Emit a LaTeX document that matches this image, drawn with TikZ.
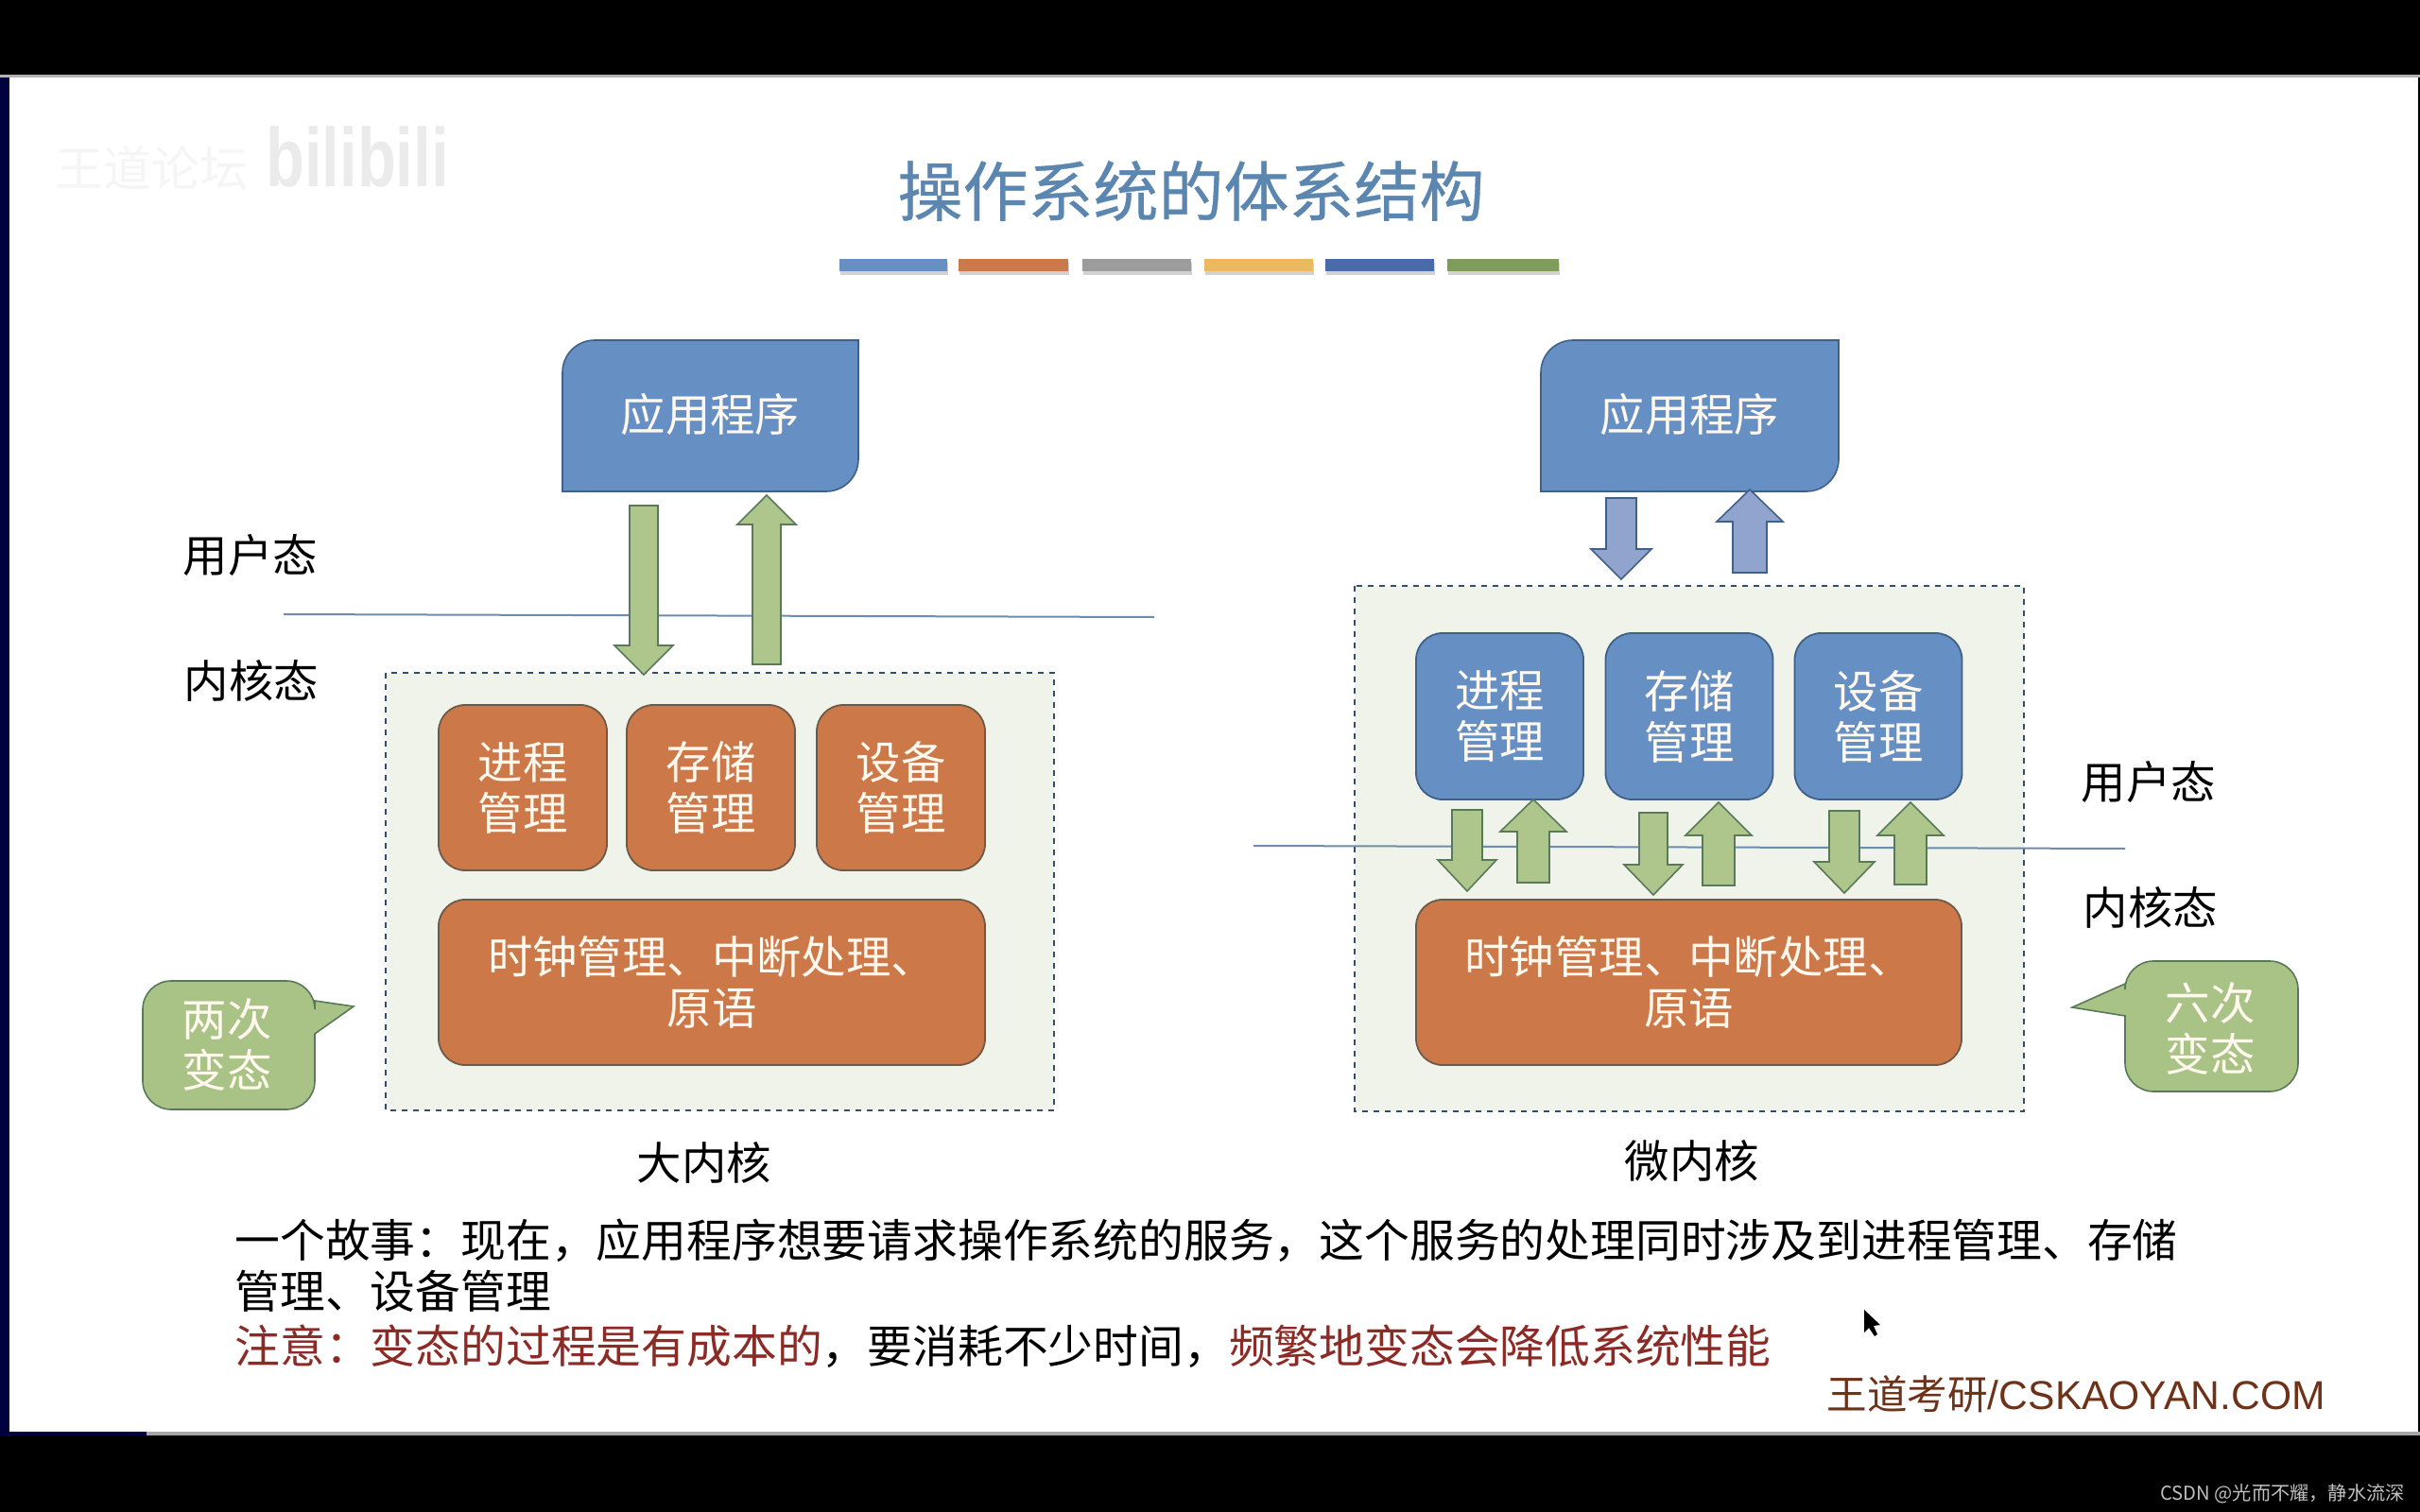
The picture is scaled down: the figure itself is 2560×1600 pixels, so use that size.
\documentclass[tikz,border=0pt]{standalone}
\usepackage{fontspec}
\setmainfont{Noto Sans CJK SC}
\newfontfamily\latinfont{Liberation Sans}
\newfontfamily\titlefont[FakeBold=0.5]{Noto Sans CJK SC}
\usetikzlibrary{calc,shadows}
\definecolor{titleblue}{HTML}{5B86B0}
\definecolor{boxblue}{HTML}{6690C4}
\definecolor{boxorange}{HTML}{CC7848}
\definecolor{edgeblue}{HTML}{3F6088}
\definecolor{edgeorange}{HTML}{6E5A48}
\definecolor{kernelfill}{HTML}{EFF3EA}
\definecolor{arrowgreen}{HTML}{AEC68C}
\definecolor{edgegreen}{HTML}{587A58}
\definecolor{arrowblue}{HTML}{90A4CE}
\definecolor{callgreen}{HTML}{A9C285}
\definecolor{lineblue}{HTML}{6C8DAE}
\definecolor{notered}{HTML}{8C2A26}
\definecolor{markbrown}{HTML}{6E3218}
\definecolor{cream}{HTML}{FFF8EE}
\newcommand{\bodysize}{\fontsize{23.7}{27}\selectfont}
\newcommand{\storysize}{\fontsize{23.9}{27}\selectfont}
\tikzset{
  modbox/.style={draw,line width=0.9pt,rounded corners=14pt,inner sep=0pt,text=cream,align=center,font=\bodysize},
  orangebox/.style={modbox,fill=boxorange,draw=edgeorange},
  bluebox/.style={modbox,fill=boxblue,draw=edgeblue},
  kernelbox/.style={draw=edgeblue!80!black,fill=kernelfill,dashed,line width=0.7pt},
  approof/.style={fill=boxblue,draw=edgeblue,line width=0.8pt},
  modelabel/.style={text=black,font=\bodysize,align=center,inner sep=0pt},
  calltext/.style={text=cream,font=\bodysize,align=center,inner sep=0pt},
  callshape/.style={fill=callgreen,draw=edgegreen,line width=0.8pt},
  colorbar/.style={draw=none,drop shadow={shadow xshift=0.5pt,shadow yshift=-2pt,opacity=0.35}},
  fatarrow/.style n args={3}{line width=0.8pt,to path={
    let \p1=(\tikztostart),\p2=(\tikztotarget),\n1={ifthenelse(\y2>\y1,1,-1)*#3pt} in
    (\x1-#1pt,\y1) -- (\x2-#1pt,\y2-\n1) -- (\x2-#2pt,\y2-\n1) -- (\x2,\y2)
    -- (\x2+#2pt,\y2-\n1) -- (\x2+#1pt,\y2-\n1) -- (\x1+#1pt,\y1) -- cycle}},
  greenarrow/.style={fill=arrowgreen,draw=edgegreen},
  bluearrow/.style={fill=arrowblue,draw=edgeblue},
}
\begin{document}
\begin{tikzpicture}[x=0.5pt,y=-0.5pt]
\useasboundingbox (0,0) rectangle (2560,1600);
% screen and slide
\fill[black] (0,0) rectangle (2560,1600);
\fill[white] (10,82) rectangle (2558,1515);
\fill[gray!60] (0,79) rectangle (2560,82);
\fill[gray!70] (0,1515) rectangle (2560,1519);
\fill[black!75!blue] (0,82) rectangle (10,1515);
\fill[black!75!blue] (0,1515) rectangle (155,1519);
\node[text=black!4,font=\fontsize{25.5}{26}\selectfont,inner sep=0pt] (forum) at (160,178) {王道论坛};
\node[text=black!8,font=\fontsize{44}{44}\selectfont\latinfont\bfseries,inner sep=0pt,xscale=0.76] (site) at (378,166) {bilibili};
% title and the strip under it
\node[text=titleblue,font=\fontsize{34.5}{36}\selectfont\titlefont,inner sep=0pt] (title) at (1260,202) {操作系统的体系结构};
\foreach \xa/\xb/\c in {888/1002/6690C4,1014/1130/CC7848,1145/1260/9C9C9C,1274/1389/EDB95E,1402/1517/4A6BA9,1531/1649/7D9D58}{
  \definecolor{barcol}{HTML}{\c}
  \fill[barcol,colorbar] (\xa,274) rectangle (\xb,287);
}
% kernel frames
\draw[kernelbox] (408,712) rectangle (1115,1175);
\draw[kernelbox] (1433,620) rectangle (2141,1176);
% mode boundaries
\coordinate (leftw) at (300,650);
\coordinate (lefte) at (1221,653);
\coordinate (rightw) at (1326,895);
\coordinate (righte) at (2248,898);
\draw[lineblue,line width=1pt] (leftw) -- (lefte);
\draw[lineblue,line width=1pt] (rightw) -- (righte);
\node[modelabel] (userl) at (265,588) {用户态};
\node[modelabel] (kernl) at (266,720) {内核态};
\node[modelabel] (userr) at (2273,828) {用户态};
\node[modelabel] (kernr) at (2275,960) {内核态};
% application boxes, two corners rounded
\foreach \nm/\xa/\xb in {appl/595/908,appr/1630/1945}{
  \draw[approof] (\xa,520) [sharp corners] -- (\xa,395) [rounded corners=17pt] -- (\xa,360) [sharp corners] -- (\xb,360)
    -- (\xb,480) [rounded corners=17pt] -- (\xb,520) [sharp corners] -- cycle;
  \node[text=cream,font=\bodysize,inner sep=0pt] (\nm) at ({(\xa+\xb)/2},438) {应用程序};
}
% modules
\node[orangebox,minimum width=89pt,minimum height=87.5pt] (procl) at (553,833.5) {进程\\管理};
\node[orangebox,minimum width=89pt,minimum height=87.5pt] (meml) at (752,833.5) {存储\\管理};
\node[orangebox,minimum width=89pt,minimum height=87.5pt] (devl) at (953,833.5) {设备\\管理};
\node[orangebox,minimum width=289pt,minimum height=87.5pt] (corel) at (753,1039.5) {时钟管理、中断处理、\\原语};
\node[bluebox,minimum width=88.5pt,minimum height=88pt] (procr) at (1586.5,758) {进程\\管理};
\node[bluebox,minimum width=88.5pt,minimum height=88pt] (memr) at (1787,758) {存储\\管理};
\node[bluebox,minimum width=88.5pt,minimum height=88pt] (devr) at (1987,758) {设备\\管理};
\node[orangebox,minimum width=288.5pt,minimum height=87.5pt] (corer) at (1786.5,1039.5) {时钟管理、中断处理、\\原语};
% block arrows
\foreach \nm/\x/\ya/\yb in {ad/681/535/714,au/811/703/524}{
  \coordinate (\nm s) at (\x,\ya);
  \coordinate (\nm e) at (\x,\yb);
  \draw[greenarrow,fatarrow={7.5}{15.5}{15.5}] (\nm s) to (\nm e);
}
\foreach \nm/\x/\ya/\yb/\s/\h/\l in {bd/1715/527/613/8/16/16,bu/1851/606/518/9/17.5/17}{
  \coordinate (\nm s) at (\x,\ya);
  \coordinate (\nm e) at (\x,\yb);
  \draw[bluearrow,fatarrow={\s}{\h}{\l}] (\nm s) to (\nm e);
}
\foreach \nm/\x/\ya/\yb/\s/\h/\l in {pd/1552/857/943/8/15.5/16.5,pu/1622/934/846/8.5/17.5/17,md/1749/860/947/7.5/15.5/16,mu/1818/937/849/8.5/17.5/17.5,dd/1951/858/945/8/16/16.5,du/2021/936/849/8.5/17.5/17.5}{
  \coordinate (\nm s) at (\x,\ya);
  \coordinate (\nm e) at (\x,\yb);
  \draw[greenarrow,fatarrow={\s}{\h}{\l}] (\nm s) to (\nm e);
}
% callouts
\draw[callshape] (240,1174) [rounded corners=15pt] -- (151,1174) -- (151,1038) -- (333,1038) [sharp corners] -- (333,1059) -- (374,1065) -- (333,1094) [rounded corners=15pt] -- (333,1174) [sharp corners] -- cycle;
\node[calltext] (twice) at (240,1106) {两次\\变态};
\draw[callshape] (2340,1155) [rounded corners=15pt] -- (2431,1155) -- (2431,1017) -- (2248,1017) [sharp corners] -- (2248,1041) -- (2192,1066) -- (2248,1075) [rounded corners=15pt] -- (2248,1155) [sharp corners] -- cycle;
\node[calltext] (sixtimes) at (2338,1089) {六次\\变态};
% captions and notes
\node[modelabel] (bigk) at (745,1230) {大内核};
\node[modelabel] (microk) at (1790,1228) {微内核};
\node[anchor=west,inner sep=0pt,font=\storysize] (story) at (248,1312.5) {一个故事：现在，应用程序想要请求操作系统的服务，这个服务的处理同时涉及到进程管理、存储};
\node[anchor=west,inner sep=0pt,font=\storysize] (storyb) at (248,1366.5) {管理、设备管理};
\node[anchor=west,inner sep=0pt,font=\storysize] (note) at (248,1424.5) {\textcolor{notered}{注意：变态的过程是有成本的}，要消耗不少时间，\textcolor{notered}{频繁地变态会降低系统性能}};
\node[anchor=east,inner sep=0pt,text=markbrown,font=\fontsize{21.3}{24}\selectfont] (mark) at (2460,1475) {王道考研{\latinfont/CSKAOYAN.COM}};
\node[anchor=east,inner sep=0pt,text=black!25,font=\fontsize{10.1}{12}\selectfont] (csdn) at (2544,1581) {CSDN @光而不耀，静水流深};
\fill[black] (1972,1386) -- (1972,1410) -- (1977,1405) -- (1983,1414) -- (1986,1412) -- (1982,1403) -- (1989,1402) -- cycle;
\end{tikzpicture}
\end{document}
